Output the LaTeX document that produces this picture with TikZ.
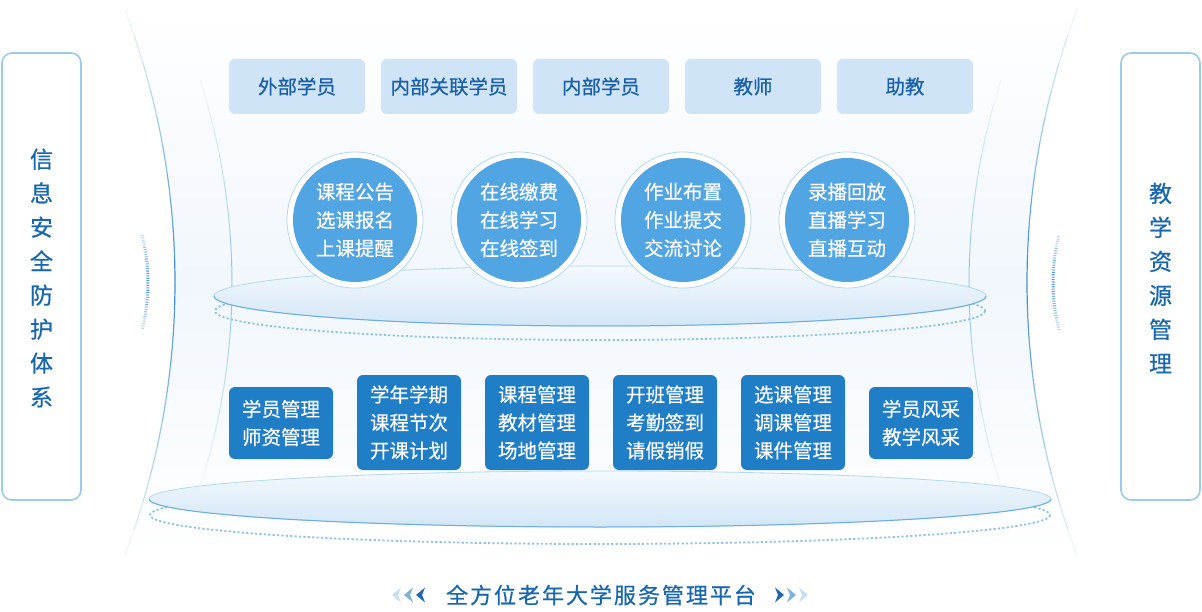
\documentclass[tikz,border=0pt]{standalone}
\usepackage{fontspec}
\setmainfont{Noto Sans CJK SC}
\newfontfamily\titlefont[LetterSpace=9,FakeBold=0.6]{Noto Sans CJK SC}
\newfontfamily\medfont[FakeBold=0.6]{Noto Sans CJK SC}
\newfontfamily\lightmed[FakeBold=0.3]{Noto Sans CJK SC}
\definecolor{sideborder}{HTML}{9ACBEC}
\definecolor{sidetext}{HTML}{1767AE}
\definecolor{topfill}{HTML}{CFE4F7}
\definecolor{toptext}{HTML}{1A5FA9}
\definecolor{circfill}{HTML}{51A5E2}
\definecolor{ringline}{HTML}{B4D7F1}
\definecolor{botfill}{HTML}{1F7EC6}
\definecolor{bgblue}{HTML}{F1F7FD}
\definecolor{ellstroke}{HTML}{6AADE4}
\definecolor{elltop}{HTML}{F3F9FE}
\definecolor{ellbot}{HTML}{D3E6F6}
\definecolor{dotblue}{HTML}{8FC3EC}
\definecolor{curveblue}{HTML}{3A8CD4}
\definecolor{innerblue}{HTML}{8DC2EC}
\definecolor{chevA}{HTML}{C6DEF2}
\definecolor{chevB}{HTML}{7DB1DE}
\definecolor{chevC}{HTML}{1E66AE}
\begin{document}
\begin{tikzpicture}[x=1pt,y=-1pt,
  sidebox/.style={draw=sideborder, line width=1.6, rounded corners=10, fill=white,
    minimum width=79, minimum height=447, inner sep=0},
  sidelabel/.style={text=sidetext, align=center, font=\medfont\fontsize{23}{34}\selectfont, inner sep=0},
  topbox/.style={fill=topfill, rounded corners=6, minimum width=136, minimum height=55,
    text=toptext, font=\medfont\fontsize{19.5}{22}\selectfont, inner sep=0},
  ring/.style={circle, fill=white, draw=ringline, line width=0.8, minimum size=136, inner sep=0},
  circbox/.style={circle, fill=circfill, minimum size=124, inner sep=0, text=white,
    align=center, font=\lightmed\fontsize{19.5}{28.3}\selectfont},
  botbox/.style={fill=botfill, rounded corners=6, minimum width=104, text=white,
    align=center, font=\lightmed\fontsize{19.5}{28}\selectfont, inner sep=0},
  dotline/.style={draw=dotblue, line width=1.8, dash pattern=on 2.2 off 2.2}
]
\useasboundingbox (0,0) rectangle (1202,612);
\fill[white] (0,0) rectangle (1202,612);

% background body between the outer curves
\shade[top color=white, bottom color=white, middle color=bgblue]
  (125,10) arc[start angle=-20.795, end angle=20.795, radius=767.56]
  -- (1077,555) arc[start angle=159.205, end angle=200.795, radius=767.56] -- cycle;

% outer curves (fading at the ends)
\foreach \i in {0,...,19}{
  \pgfmathsetmacro\sa{-20.795+\i*2.0795}
  \pgfmathsetmacro\ea{\sa+2.0795}
  \pgfmathtruncatemacro\p{100-abs(\i-9.5)*9.5}
  \draw[line width=1.2, draw=curveblue!\p!white]
    (-592.56,282.5) ++(\sa:767.56) arc[start angle=\sa, end angle=\ea, radius=767.56];
  \pgfmathsetmacro\sb{159.205+\i*2.0795}
  \pgfmathsetmacro\eb{\sb+2.0795}
  \draw[line width=1.2, draw=curveblue!\p!white]
    (1794.56,282.5) ++(\sb:767.56) arc[start angle=\sb, end angle=\eb, radius=767.56];
}
% inner curves
\foreach \i in {0,...,15}{
  \pgfmathsetmacro\sa{-17.87+\i*2.23375}
  \pgfmathsetmacro\ea{\sa+2.23375}
  \pgfmathtruncatemacro\p{100-abs(\i-7.5)*11}
  \draw[line width=1, draw=innerblue!\p!white]
    (-431.07,283.5) ++(\sa:663.07) arc[start angle=\sa, end angle=\ea, radius=663.07];
  \pgfmathsetmacro\sb{162.13+\i*2.23375}
  \pgfmathsetmacro\eb{\sb+2.23375}
  \draw[line width=1, draw=innerblue!\p!white]
    (1632.07,283.5) ++(\sb:663.07) arc[start angle=\sb, end angle=\eb, radius=663.07];
}
% short dotted arcs at the sides
\foreach \i in {0,...,7}{
  \pgfmathsetmacro\sa{-14.4+\i*3.6}
  \pgfmathsetmacro\ea{\sa+3.6}
  \pgfmathtruncatemacro\p{95-abs(\i-3.5)*17}
  \draw[line width=3, draw=curveblue!\p!white, dash pattern=on 1.1 off 1.3]
    (-43,282.5) ++(\sa:191) arc[start angle=\sa, end angle=\ea, radius=191];
  \pgfmathsetmacro\sb{165.6+\i*3.6}
  \pgfmathsetmacro\eb{\sb+3.6}
  \draw[line width=3, draw=curveblue!\p!white, dash pattern=on 1.1 off 1.3]
    (1244,282.5) ++(\sb:191) arc[start angle=\sb, end angle=\eb, radius=191];
}

% side boxes
\node[sidebox] (leftbox) at (41.5,276.5) {};
\node[sidelabel] (lefttext) at (41.5,278) {信\\息\\安\\全\\防\\护\\体\\系};
\node[sidebox] (rightbox) at (1160.5,276.5) {};
\node[sidelabel] (righttext) at (1160.5,278) {教\\学\\资\\源\\管\\理};

% upper platform
\draw[dotline] (600,311) ellipse[x radius=385, y radius=29];
\shade[top color=elltop, bottom color=ellbot, draw=ellstroke!50!white, line width=0.8]
  (600,296) ellipse[x radius=386, y radius=30];
\draw[draw=ellstroke, line width=1]
  (986,296) arc[start angle=0, end angle=180, x radius=386, y radius=30];

% lower platform
\draw[dotline] (600,515) ellipse[x radius=450, y radius=29];
\shade[top color=elltop, bottom color=ellbot, draw=ellstroke!50!white, line width=0.8]
  (600,499) ellipse[x radius=451, y radius=28];
\draw[draw=ellstroke, line width=1]
  (1051,499) arc[start angle=0, end angle=180, x radius=451, y radius=28];

% top row of roles
\node[topbox] (r1) at (297,86.5) {外部学员};
\node[topbox] (r2) at (449,86.5) {内部关联学员};
\node[topbox] (r3) at (601,86.5) {内部学员};
\node[topbox] (r4) at (753,86.5) {教师};
\node[topbox] (r5) at (905,86.5) {助教};

% circles
\node[ring] (ring1) at (355,220) {};
\node[circbox] (c1) at (355,220) {课程公告\\选课报名\\上课提醒};
\node[ring] (ring2) at (519,220) {};
\node[circbox] (c2) at (519,220) {在线缴费\\在线学习\\在线签到};
\node[ring] (ring3) at (683,220) {};
\node[circbox] (c3) at (683,220) {作业布置\\作业提交\\交流讨论};
\node[ring] (ring4) at (847,220) {};
\node[circbox] (c4) at (847,220) {录播回放\\直播学习\\直播互动};

% lower management boxes
\node[botbox, minimum height=72] (b1) at (281,423) {学员管理\\师资管理};
\node[botbox, minimum height=95] (b2) at (409,422.5) {学年学期\\课程节次\\开课计划};
\node[botbox, minimum height=95] (b3) at (537,422.5) {课程管理\\教材管理\\场地管理};
\node[botbox, minimum height=95] (b4) at (665,422.5) {开班管理\\考勤签到\\请假销假};
\node[botbox, minimum height=95] (b5) at (793,422.5) {选课管理\\调课管理\\课件管理};
\node[botbox, minimum height=72] (b6) at (921,423) {学员风采\\教学风采};

% title
\node[text=sidetext, font=\titlefont\fontsize{22}{26}\selectfont, inner sep=0] (title) at (601,595) {全方位老年大学服务管理平台};

% chevrons
\fill[chevA] (392,595) -- (401,587.5) -- (398,595) -- (401,602.5) -- cycle;
\fill[chevB] (404,595) -- (413,587.5) -- (410,595) -- (413,602.5) -- cycle;
\fill[chevC] (416,595) -- (425,587.5) -- (422,595) -- (425,602.5) -- cycle;
\fill[chevC] (784,595) -- (775,587.5) -- (778,595) -- (775,602.5) -- cycle;
\fill[chevB] (796,595) -- (787,587.5) -- (790,595) -- (787,602.5) -- cycle;
\fill[chevA] (808,595) -- (799,587.5) -- (802,595) -- (799,602.5) -- cycle;
\end{tikzpicture}
\end{document}
